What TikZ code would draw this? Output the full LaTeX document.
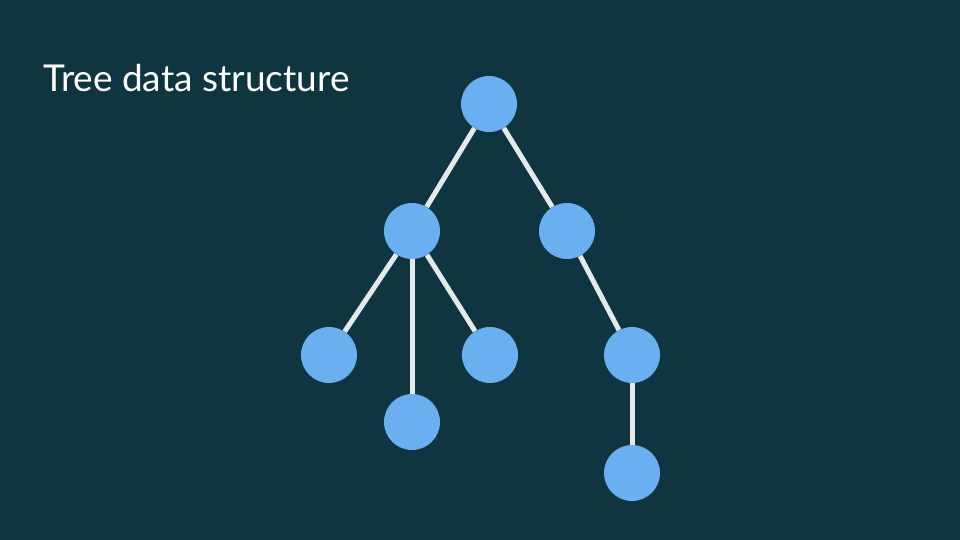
\documentclass[tikz,border=0pt]{standalone}
\usepackage{fontspec}
\setmainfont{Lato}
\definecolor{bg}{HTML}{0F3540}
\definecolor{nodeblue}{HTML}{6AB0F0}
\definecolor{edgecol}{HTML}{E6E9EA}
\tikzset{
  treenode/.style={circle, fill=nodeblue, minimum size=56pt, inner sep=0pt},
  edge/.style={draw=edgecol, line width=5pt},
}
\begin{document}
\begin{tikzpicture}[x=1pt,y=-1pt]
\fill[bg] (0,0) rectangle (960,540);
\useasboundingbox (0,0) rectangle (960,540);
\node[anchor=base west, text=white, font=\fontsize{37}{40}\selectfont, inner sep=0pt] (title) at (43,92) {Tree data structure};
\node[treenode] (root) at (489,104) {};
\node[treenode] (l1) at (412,231) {};
\node[treenode] (r1) at (567,231) {};
\node[treenode] (l1a) at (329,355) {};
\node[treenode] (l1b) at (412,422) {};
\node[treenode] (l1c) at (490,355) {};
\node[treenode] (r1a) at (632,355) {};
\node[treenode] (r1b) at (632,473) {};
\draw[edge] (root) -- (l1);
\draw[edge] (root) -- (r1);
\draw[edge] (l1) -- (l1a);
\draw[edge] (l1) -- (l1b);
\draw[edge] (l1) -- (l1c);
\draw[edge] (r1) -- (r1a);
\draw[edge] (r1a) -- (r1b);
\end{tikzpicture}
\end{document}
